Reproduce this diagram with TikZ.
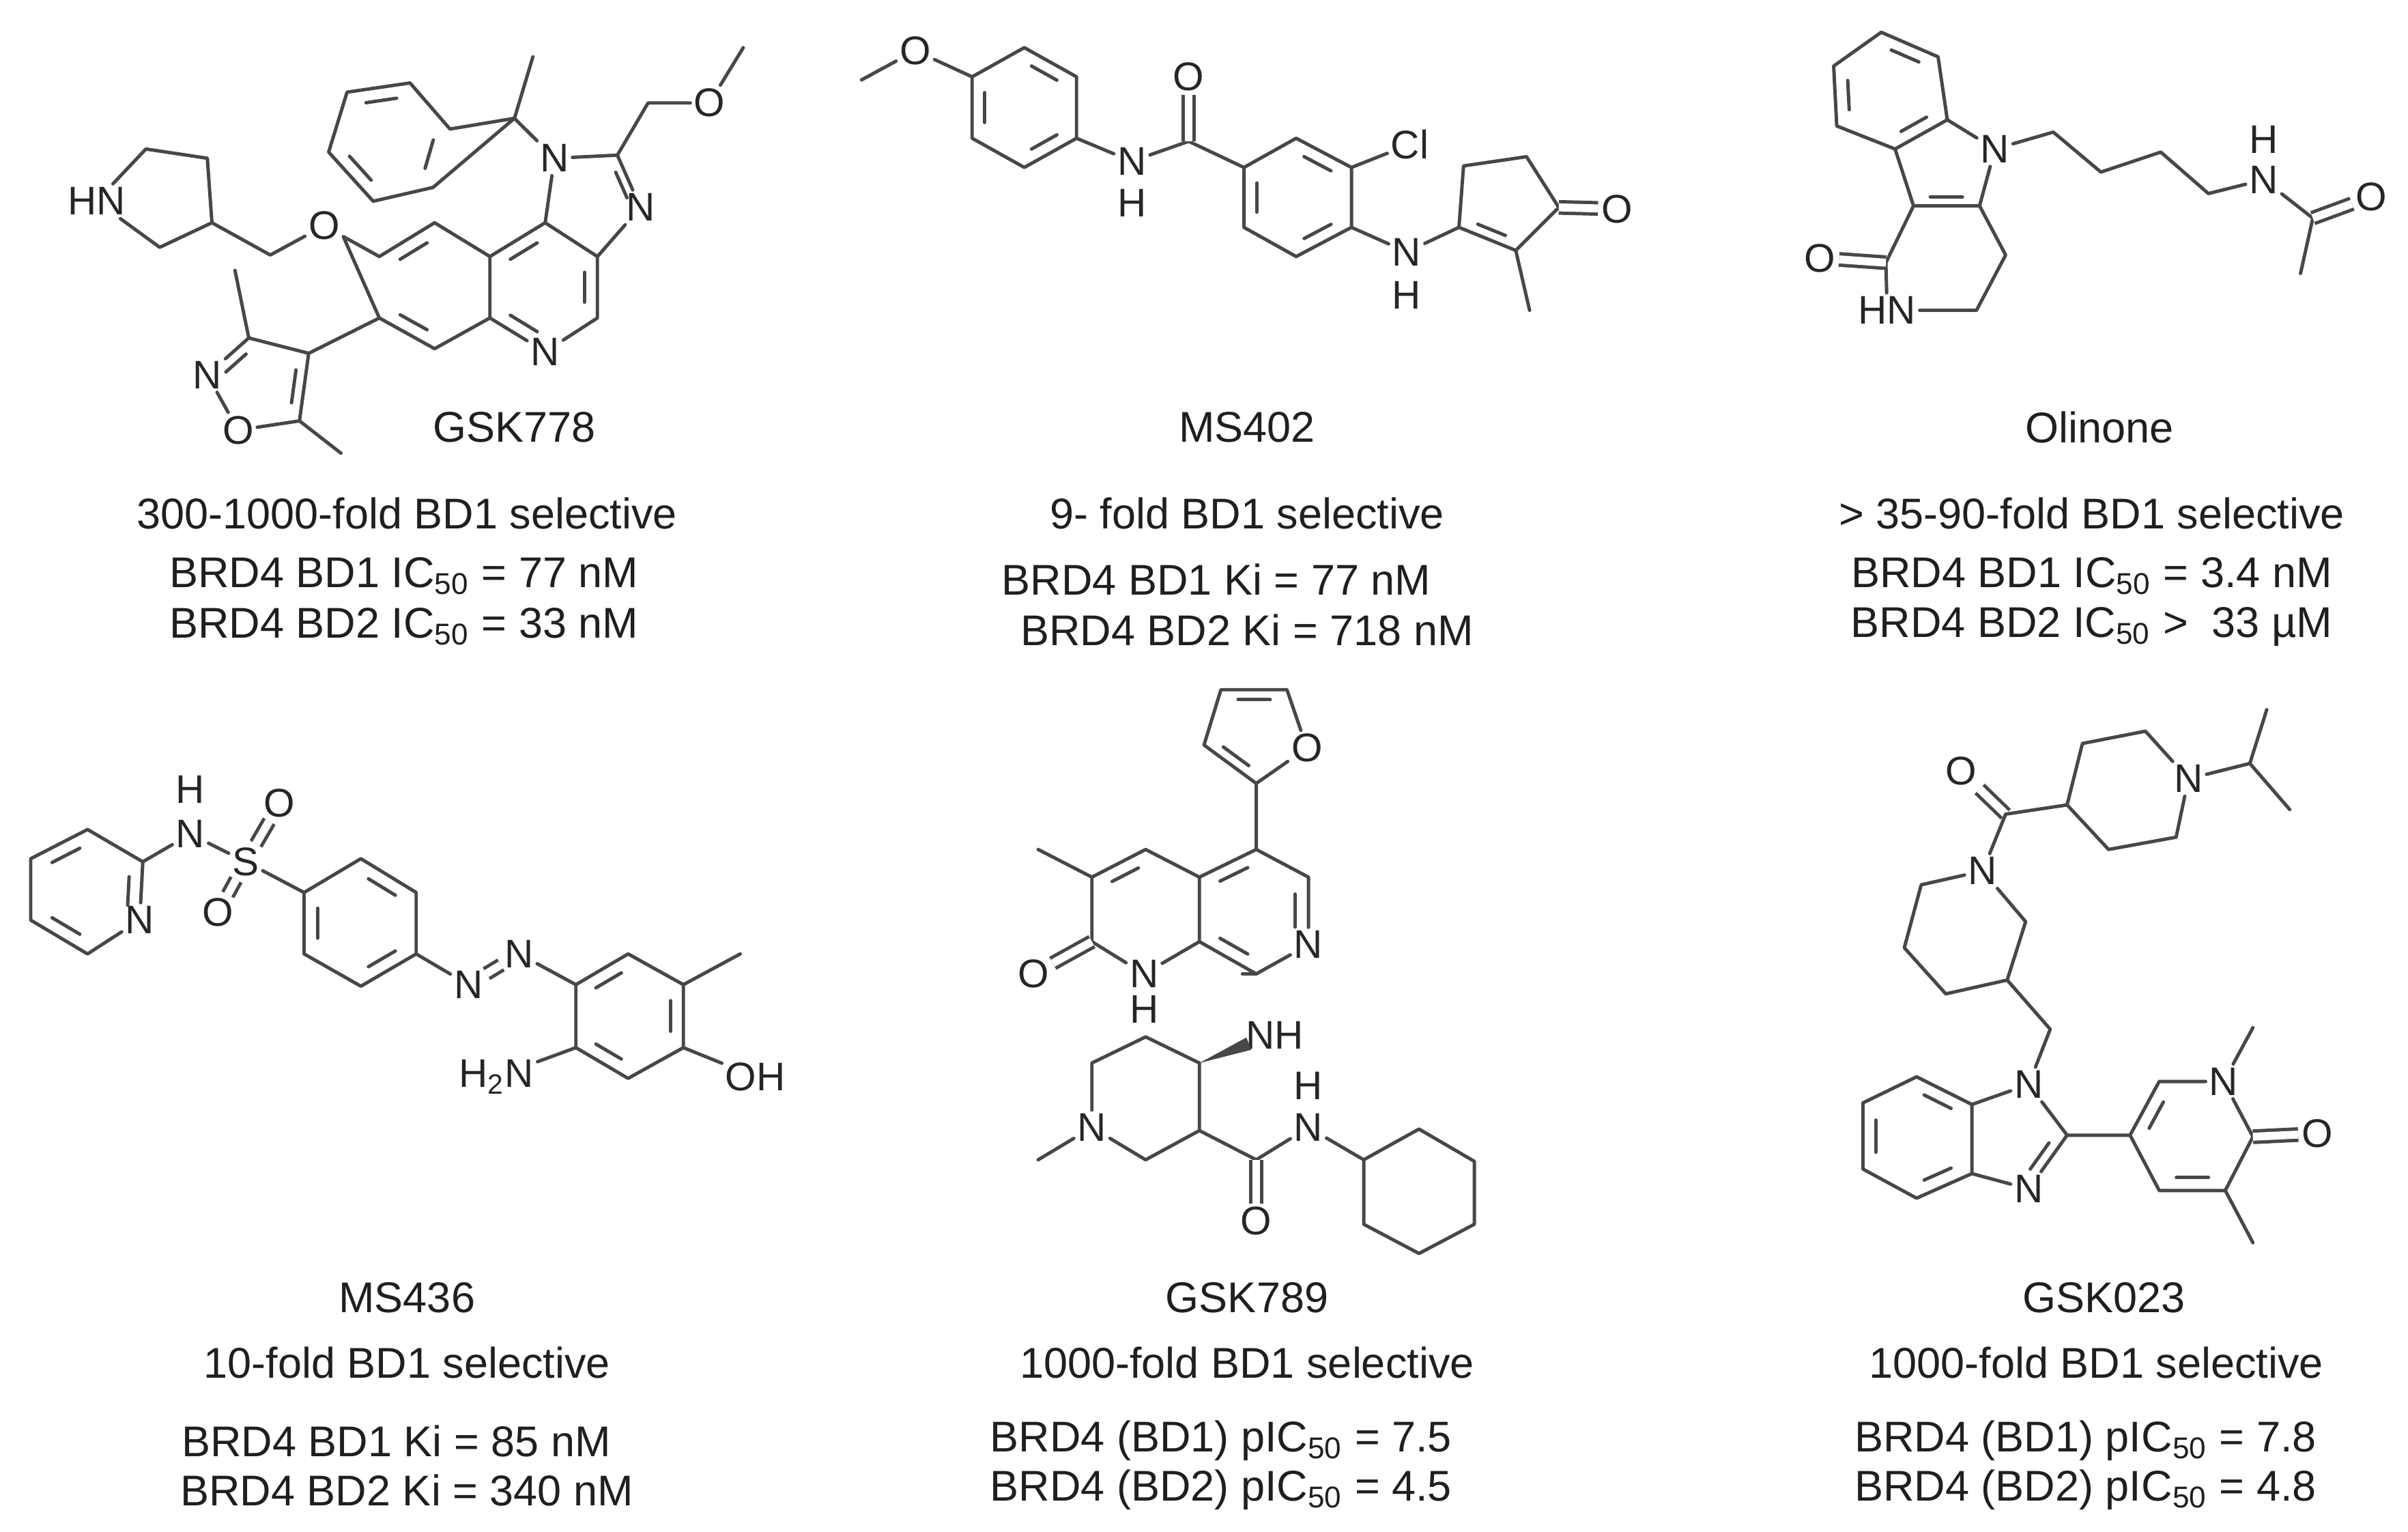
\documentclass[tikz,border=0pt]{standalone}
\usepackage{fontspec}
\setmainfont{Liberation Sans}
\usetikzlibrary{calc}
\tikzset{bd/.style={line width=1.1pt,draw=black!72,line cap=round,line join=round},
 atom/.style={inner sep=1pt,font=\fontsize{13}{13}\selectfont,text=black!85},
 lab/.style={inner sep=0pt,font=\fontsize{14}{16}\selectfont,text=black!88},
 dbl/.style={bd,double=white,double distance=2.6pt,line cap=butt}}
\newcommand\inb[3]{\draw[bd] ($($(#1)!0.18!(#2)$)!0.24!(#3)$) -- ($($(#1)!0.82!(#2)$)!0.24!(#3)$);}
\newcommand\C[2]{\coordinate (#1) at (#2);}
\newcommand\A[3]{\node[atom] (#1) at (#2) {#3};}
\begin{document}
\begin{tikzpicture}[x=0.5pt,y=-0.5pt]
\useasboundingbox[fill=white] (0,0) rectangle (1568,997);
% ================= GSK778
\C{ap1}{95,97}\C{ap2}{135,103}\C{ap3}{138,145}\C{ap4}{104,161}
\node[atom,anchor=east] (aHN) at (84,131) {HN};
\C{ach}{176,166}\A{aO}{211,147}{O}
\C{b1}{247,167}\C{b2}{283,145}\C{b3}{319,167}\C{b4}{319,207}\C{b5}{283,227}\C{b6}{247,207}\C{bc}{283,187}
\C{q1}{355,145}\C{q2}{389,167}\C{q3}{389,207}\A{aN}{355,229}{N}\C{pc}{354,187}
\A{aN1}{361,103}{N}\C{ac2}{402,101}\A{aN3}{417,135}{N}\C{ic}{389,128}
\C{ach2}{335,77}\C{ame}{347,37}
\C{f1}{293,84}\C{f2}{267,54}\C{f3}{226,60}\C{f4}{214,99}\C{f5}{243,131}\C{f6}{282,122}\C{fc}{254,92}
\C{am1}{422,67}\A{aO2}{462,67}{O}\C{am2}{484,31}
\C{i4}{201,230}\C{i3}{162,220}\A{aNi}{135,244}{N}\A{aOi}{155,280}{O}\C{i5}{195,274}\C{ic2}{170,250}
\C{im3}{153,176}\C{im5}{222,295}
\draw[bd] (aHN)--(ap1)--(ap2)--(ap3)--(ap4)--(aHN);
\draw[bd] (ap3)--(ach)--(aO)--(b1)--(b2)--(b3)--(b4)--(b5)--(b6)--cycle;
\draw[bd] (b3)--(q1)--(q2)--(q3)--(aN)--(b4);
\draw[bd] (q1)--(aN1)--(ac2)--(aN3)--(q2);
\draw[bd] (aN1)--(ach2)--(ame); \draw[bd] (ach2)--(f1)--(f2)--(f3)--(f4)--(f5)--(f6)--cycle;
\draw[bd] (ac2)--(am1)--(aO2)--(am2);
\draw[bd] (b6)--(i4)--(i3)--(aNi)--(aOi)--(i5)--(i4); \draw[bd] (i3)--(im3); \draw[bd] (i5)--(im5);
\inb{b1}{b2}{bc}\inb{b5}{b6}{bc}\inb{b3}{q1}{pc}\inb{q2}{q3}{pc}\inb{aN}{b4}{pc}\inb{ac2}{aN3}{ic}
\inb{f2}{f3}{fc}\inb{f4}{f5}{fc}\inb{f6}{f1}{fc}\inb{i3}{aNi}{ic2}\inb{i4}{i5}{ic2}
\node[lab] at (335,278) {GSK778};
% ================= MS402
\C{bme}{561,52}\A{bO}{596,33}{O}
\C{r1}{633,50}\C{r2}{667,31}\C{r3}{701,50}\C{r4}{701,90}\C{r5}{667,109}\C{r6}{633,90}\C{rc}{667,70}
\A{bN}{737,105}{N}\A{bH}{737,132}{H}
\C{bc1}{774,92}\A{bO1}{774,50}{O}
\C{s1}{810,109}\C{s2}{844,90}\C{s3}{880,109}\C{s4}{880,148}\C{s5}{844,167}\C{s6}{810,148}\C{sc}{845,129}
\A{bCl}{918,94}{Cl}
\A{bN2}{916,164}{N}\A{bH2}{916,192}{H}
\C{t1}{950,148}\C{t2}{987,163}\C{t3}{1015,135}\C{t4}{994,102}\C{t5}{953,108}\C{tc}{980,131}
\A{bO3}{1053,136}{O}\C{tme}{996,202}
\draw[bd] (bme)--(bO)--(r1)--(r2)--(r3)--(r4)--(r5)--(r6)--(r1);
\draw[bd] (r4)--(bN)--(bc1)--(s1)--(s2)--(s3)--(s4)--(s5)--(s6)--(s1);
\draw[dbl] (bc1)--(bO1);
\draw[bd] (s3)--(bCl); \draw[bd] (s4)--(bN2)--(t1)--(t2)--(t3)--(t4)--(t5)--(t1);
\draw[dbl] (t3)--(bO3); \draw[bd] (t2)--(tme);
\inb{r2}{r3}{rc}\inb{r4}{r5}{rc}\inb{r6}{r1}{rc}\inb{s2}{s3}{sc}\inb{s4}{s5}{sc}\inb{s6}{s1}{sc}\inb{t1}{t2}{tc}
\node[lab] at (812,278) {MS402};
% ================= Olinone
\C{u1}{1225,21}\C{u2}{1262,37}\C{u3}{1268,78}\C{u4}{1234,97}\C{u5}{1196,82}\C{u6}{1194,43}\C{uc}{1231,60}
\A{cN}{1299,97}{N}\C{cc2}{1289,134}\C{cc3}{1246,134}\C{pyc}{1267,110}
\C{cc4}{1228,171}\A{cO}{1185,168}{O}
\node[atom,anchor=east] (cHN) at (1250,202) {HN};
\C{cc6}{1287,202}\C{cc7}{1306,166}\C{sixc}{1267,168}
\C{k1}{1337,86}\C{k2}{1368,112}\C{k3}{1407,99}\C{k4}{1438,126}
\A{cN2}{1474,117}{N}\A{cH2}{1474,91}{H}\C{kc}{1506,142}\A{cO2}{1544,128}{O}\C{kme}{1498,178}
\draw[bd] (u1)--(u2)--(u3)--(u4)--(u5)--(u6)--cycle;
\draw[bd] (u3)--(cN)--(cc2)--(cc3)--(u4);
\draw[bd] (cc3)--(cc4)--(cHN)--(cc6)--(cc7)--(cc2);
\draw[dbl] (cc4)--(cO);
\draw[bd] (cN)--(k1)--(k2)--(k3)--(k4)--(cN2)--(kc)--(kme); \draw[dbl] (kc)--(cO2);
\inb{u1}{u2}{uc}\inb{u5}{u6}{uc}\inb{u3}{u4}{uc}\inb{cc2}{cc3}{pyc}
\node[lab] at (1367,278) {Olinone};
% ================= MS436
\C{v1}{57,540}\C{v2}{93,561}\A{dN}{91,599}{N}\C{v4}{57,621}\C{v5}{20,599}\C{v6}{20,559}\C{vc}{57,580}
\A{dNH}{124,543}{N}\A{dH}{124,514}{H}
\A{dS}{160,561}{S}\A{dO1}{182,523}{O}\A{dO2}{142,594}{O}
\C{w1}{198,581}\C{w2}{235,559}\C{w3}{271,581}\C{w4}{271,621}\C{w5}{235,642}\C{w6}{198,621}\C{wc}{235,601}
\A{dNa}{305,641}{N}\A{dNb}{338,621}{N}
\C{x1}{375,641}\C{x2}{409,621}\C{x3}{445,641}\C{x4}{445,682}\C{x5}{409,702}\C{x6}{375,682}\C{xc}{410,661}
\C{xme}{482,621}\node[atom,anchor=west] (dOH) at (470,701) {OH};
\node[atom,anchor=east] (dNH2) at (350,701) {H\textsubscript{2}N};
\draw[bd] (v1)--(v2)--(dN)--(v4)--(v5)--(v6)--(v1);
\draw[bd] (v2)--(dNH)--(dS)--(w1)--(w2)--(w3)--(w4)--(w5)--(w6)--(w1);
\draw[dbl] (dS)--(dO1); \draw[dbl] (dS)--(dO2);
\draw[bd] (w4)--(dNa); \draw[dbl] (dNa)--(dNb);
\draw[bd] (dNb)--(x1)--(x2)--(x3)--(x4)--(x5)--(x6)--(x1);
\draw[bd] (x3)--(xme); \draw[bd] (x4)--(dOH); \draw[bd] (x6)--(dNH2);
\inb{v1}{v6}{vc}\inb{dN}{v2}{vc}\inb{v4}{v5}{vc}\inb{w2}{w3}{wc}\inb{w4}{w5}{wc}\inb{w6}{w1}{wc}
\inb{x1}{x2}{xc}\inb{x3}{x4}{xc}\inb{x5}{x6}{xc}
\node[lab] at (265,845) {MS436};
% ================= GSK789
\C{g2}{818,510}\C{g3}{784,485}\C{g4}{795,449}\C{g5}{838,449}\A{eO}{851,487}{O}\C{gc}{817,476}
\C{h5}{818,553}\C{h6}{852,571}\A{eN7}{852,615}{N}\C{h8}{818,634}\C{h8a}{781,613}\C{h4a}{781,571}\C{hrc}{816,592}
\C{h4}{746,553}\C{h3}{711,571}\C{h2}{711,613}\A{eN1}{745,634}{N}\A{eH1}{745,657}{H}\A{eO2}{673,634}{O}\C{hlc}{746,593}
\C{hme}{676,553}
\node[atom,anchor=west] (eNH) at (809,674) {NH};
\C{j4}{781,692}\C{j5}{746,675}\C{j6}{711,692}\A{eN}{711,734}{N}\C{j2}{746,755}\C{j3}{781,736}\C{jme}{676,755}
\C{ea}{818,755}\A{eO3}{818,795}{O}\A{eN3}{852,734}{N}\A{eH3}{852,707}{H}
\C{y1}{888,755}\C{y2}{924,735}\C{y3}{960,756}\C{y4}{960,797}\C{y5}{924,816}\C{y6}{888,797}
\draw[bd] (g2)--(g3)--(g4)--(g5)--(eO)--(g2)--(h5);
\draw[bd] (h5)--(h6)--(eN7)--(h8)--(h8a)--(h4a)--(h5);
\draw[bd] (h4a)--(h4)--(h3)--(h2)--(eN1)--(h8a); \draw[dbl] (h2)--(eO2); \draw[bd] (h3)--(hme);
\draw[bd] (h8)--(eNH.west|-h8) ;
\draw[bd] (j4)--(j5)--(j6)--(eN)--(j2)--(j3)--(j4); \draw[bd] (eN)--(jme);
\fill[black!72] (j4) -- (814.8,683.4) -- (811.6,675.4) -- cycle;
\draw[bd] (j3)--(ea)--(eN3)--(y1); \draw[dbl] (ea)--(eO3);
\draw[bd] (y1)--(y2)--(y3)--(y4)--(y5)--(y6)--cycle;
\inb{g2}{g3}{gc}\inb{g4}{g5}{gc}\inb{h5}{h4a}{hrc}\inb{h6}{eN7}{hrc}\inb{h8}{h8a}{hrc}\inb{h4}{h3}{hlc}
\node[lab] at (812,845) {GSK789};
% ================= GSK023
\A{fO}{1277,502}{O}\C{fa}{1306,530}
\C{m4}{1346,524}\C{m3}{1356,484}\C{m2}{1397,476}\A{fN}{1425,507}{N}\C{m6}{1417,545}\C{m5}{1373,553}
\C{ipr}{1465,497}\C{ip1}{1476,462}\C{ip2}{1491,527}
\A{fN2}{1291,567}{N}\C{n2}{1319,600}\C{n3}{1307,638}\C{n4}{1267,647}\C{n5}{1240,617}\C{n6}{1251,576}
\C{fch}{1335,670}\A{fN3}{1321,706}{N}
\C{o2}{1346,739}\A{fN4}{1321,774}{N}\C{o3a}{1284,764}\C{o7a}{1284,719}\C{imc}{1311,740}
\C{z1}{1248,701}\C{z2}{1213,718}\C{z3}{1213,761}\C{z4}{1248,780}\C{zc}{1248,740}
\C{l5}{1387,739}\C{l6}{1406,704}\A{fN5}{1448,704}{N}\C{lme}{1467,669}\C{l2}{1467,740}\A{fO2}{1509,738}{O}
\C{l3}{1449,775}\C{l3m}{1467,809}\C{l4}{1406,775}\C{lc}{1428,740}
\draw[dbl] (fa)--(fO);
\draw[bd] (fa)--(m4)--(m3)--(m2)--(fN)--(m6)--(m5)--(m4);
\draw[bd] (fN)--(ipr)--(ip1); \draw[bd] (ipr)--(ip2);
\draw[bd] (fa)--(fN2)--(n2)--(n3)--(n4)--(n5)--(n6)--(fN2);
\draw[bd] (n3)--(fch)--(fN3)--(o2)--(fN4)--(o3a)--(o7a)--(fN3);
\draw[bd] (o7a)--(z1)--(z2)--(z3)--(z4)--(o3a);
\draw[bd] (o2)--(l5)--(l6)--(fN5)--(l2)--(l3)--(l4)--(l5); \draw[bd] (fN5)--(lme); \draw[bd] (l3)--(l3m);
\draw[dbl] (l2)--(fO2);
\inb{o7a}{z1}{zc}\inb{z2}{z3}{zc}\inb{z4}{o3a}{zc}\inb{o2}{fN4}{imc}\inb{l5}{l6}{lc}\inb{l3}{l4}{lc}
\node[lab] at (1370,845) {GSK023};
% ================= captions
\node[lab] at (265,334) {300-1000-fold BD1 selective};
\node[lab] at (263,375) {BRD4 BD1 IC\textsubscript{50} = 77 nM};
\node[lab] at (263,408) {BRD4 BD2 IC\textsubscript{50} = 33 nM};
\node[lab] at (812,334) {9- fold BD1 selective};
\node[lab] at (792,377) {BRD4 BD1 Ki = 77 nM};
\node[lab] at (812,410) {BRD4 BD2 Ki = 718 nM};
\node[lab] at (1362,334) {> 35-90-fold BD1 selective};
\node[lab] at (1362,375) {BRD4 BD1 IC\textsubscript{50} = 3.4 nM};
\node[lab] at (1362,408) {BRD4 BD2 IC\textsubscript{50} >\ \ 33 µM};
\node[lab] at (265,887) {10-fold BD1 selective};
\node[lab] at (258,938) {BRD4 BD1 Ki = 85 nM};
\node[lab] at (265,970) {BRD4 BD2 Ki = 340 nM};
\node[lab] at (812,887) {1000-fold BD1 selective};
\node[lab] at (795,938) {BRD4 (BD1) pIC\textsubscript{50} = 7.5};
\node[lab] at (795,970) {BRD4 (BD2) pIC\textsubscript{50} = 4.5};
\node[lab] at (1365,887) {1000-fold BD1 selective};
\node[lab] at (1358,938) {BRD4 (BD1) pIC\textsubscript{50} = 7.8};
\node[lab] at (1358,970) {BRD4 (BD2) pIC\textsubscript{50} = 4.8};
\end{tikzpicture}
\end{document}
